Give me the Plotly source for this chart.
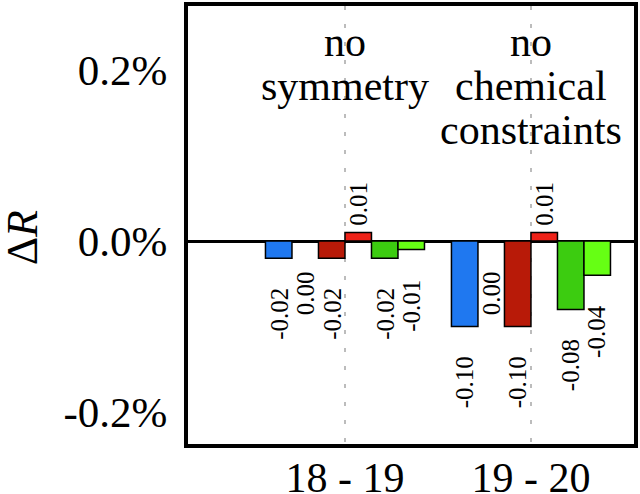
import plotly.graph_objects as go

# data
categories = ["18 - 19", "19 - 20"]
series_names = ["a", "b", "c", "d", "e", "f"]
series_values = [
    [-0.02, -0.10],
    [0.00, 0.00],
    [-0.02, -0.10],
    [0.01, 0.01],
    [-0.02, -0.08],
    [-0.01, -0.04],
]
series_colors = ["#1f78f0", "#f0a020", "#b81a08", "#ee2218", "#3ccc10", "#66ff14"]
notes = [["no", "symmetry"], ["no", "chemical", "constraints"]]
y_ticks = [-0.2, 0.0, 0.2]
y_ticktext = ["-0.2%", "0.0%", "0.2%"]

FONT = "Liberation Serif"
bar_px = 26.5

fig = go.Figure()
for name, vals, col in zip(series_names, series_values, series_colors):
    fig.add_trace(go.Bar(
        x=categories, y=vals, name=name,
        marker=dict(color=col, line=dict(color="black", width=1.5)),
    ))

# rotated value labels
for i, vals in enumerate(series_values):
    for cat, v in zip(categories, vals):
        pos = v > 0
        fig.add_annotation(
            x=cat, y=v, xref="x", yref="y",
            text=f"{v:.2f}", textangle=-90, showarrow=False,
            xshift=(i - 2.5) * bar_px,
            yanchor="bottom" if pos else "top",
            yshift=5 if pos else -28,
            font=dict(family=FONT, size=25, color="black"),
        )

# group notes, one annotation per line
line_y = [0.918, 0.817, 0.718]
for cat, lines in zip(categories, notes):
    for k, t in enumerate(lines):
        fig.add_annotation(
            x=cat, xref="x", y=line_y[k], yref="paper",
            text=t, showarrow=False, yanchor="middle",
            font=dict(family=FONT, size=42, color="black"),
        )

# y title
fig.add_annotation(
    x=-0.372, xref="paper", y=0.47, yref="paper",
    text="Δ<i>R</i>", textangle=-90, showarrow=False,
    xanchor="center", yanchor="middle", borderpad=0,
    font=dict(family=FONT, size=44, color="black"),
)

fig.update_layout(
    width=640, height=494,
    margin=dict(l=188, r=6, t=6, b=50, autoexpand=False),
    paper_bgcolor="white", plot_bgcolor="white",
    barmode="group", bargap=0.145, bargroupgap=0,
    showlegend=False,
    font=dict(family=FONT, color="black"),
)
fig.update_xaxes(
    range=[-0.844, 1.554], automargin=False,
    showline=True, linecolor="black", linewidth=4, mirror=True,
    showgrid=True, gridcolor="#bcbcbc", gridwidth=1.5, griddash="4px,14px",
    ticks="", ticklabelstandoff=-6,
    tickfont=dict(family=FONT, size=42, color="black"),
)
fig.update_yaxes(
    range=[-0.2374, 0.2749], automargin=False,
    tickvals=y_ticks, ticktext=y_ticktext,
    showline=True, linecolor="black", linewidth=4, mirror=True,
    showgrid=False,
    zeroline=True, zerolinecolor="black", zerolinewidth=3,
    ticks="", ticklabelstandoff=8,
    tickfont=dict(family=FONT, size=43, color="black"),
)

fig.write_html(
    "out.html",
    config={"displayModeBar": False},
    post_script="document.body.style.margin='0';document.body.style.overflow='hidden';",
)
